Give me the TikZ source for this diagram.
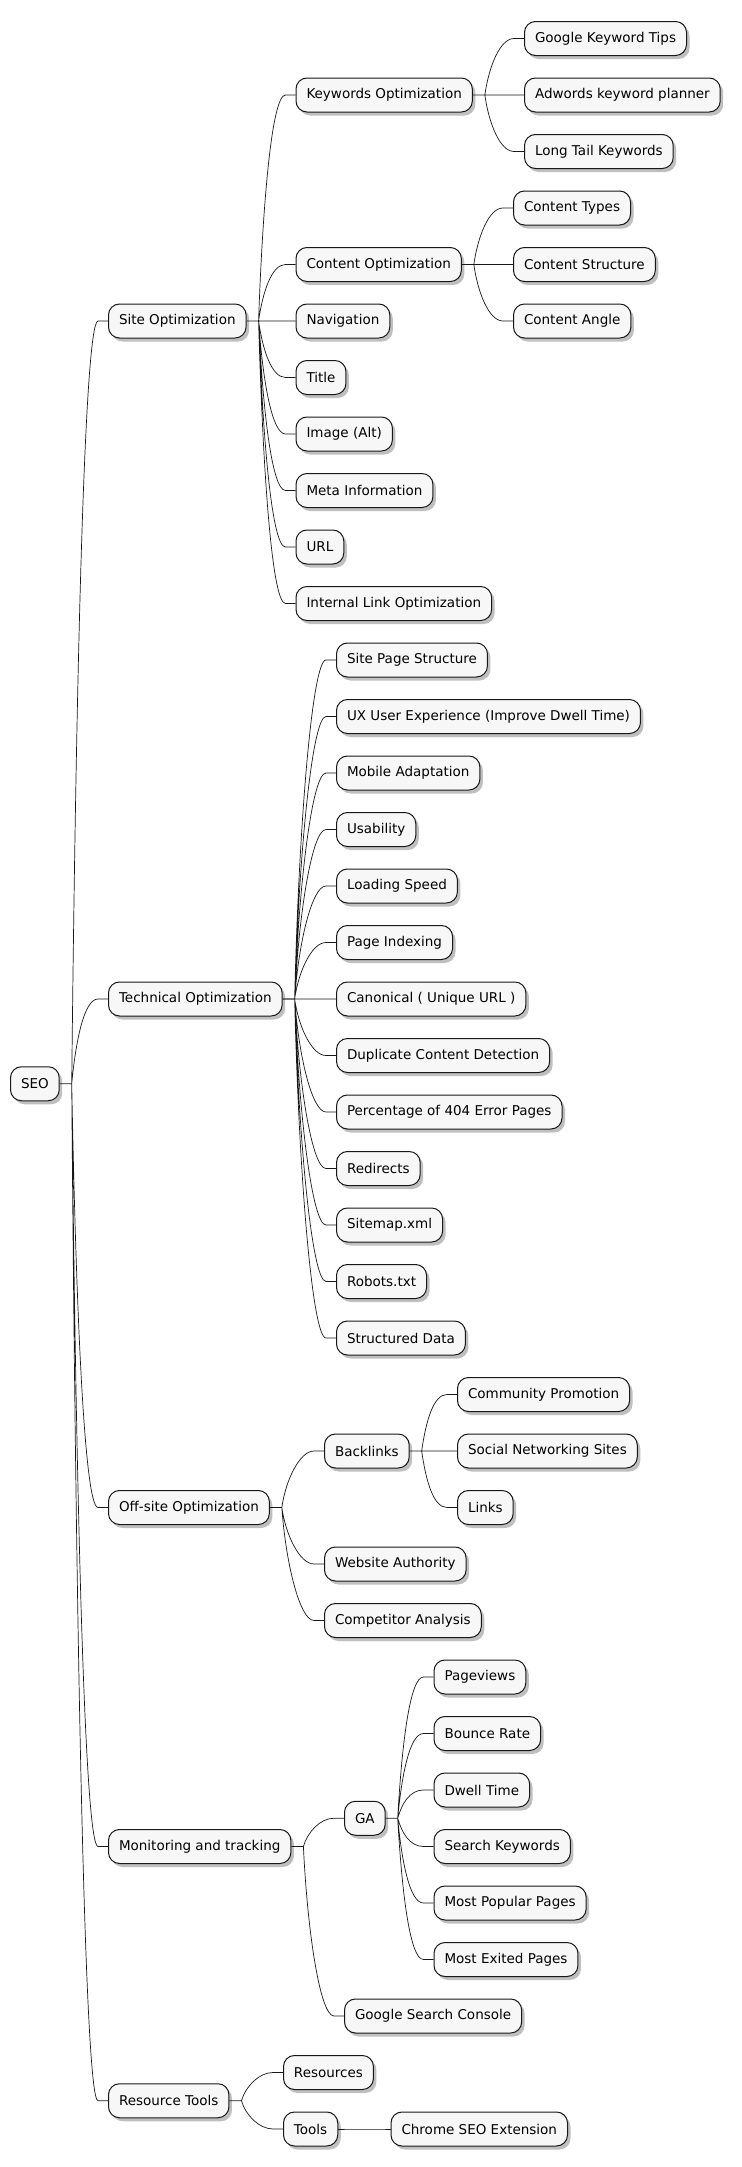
\documentclass[tikz,border=0pt]{standalone}
\usepackage{fontspec}
\setmainfont{DejaVu Sans}
\usetikzlibrary{calc,shadows}

\definecolor{boxfill}{RGB}{247,247,247}
\definecolor{linegray}{RGB}{24,24,24}

\begin{document}
\begin{tikzpicture}[x=1pt,y=-56.5pt]
  % Estilos para las cajas y las ramas
    \tikzstyle{topic} = [draw=linegray, line width=1pt, fill=boxfill, rounded corners=11pt, anchor=west, minimum height=34pt, inner xsep=10.5pt, font=\fontsize{13.5}{16}\selectfont, drop shadow={shadow xshift=3pt, shadow yshift=-3.5pt, opacity=0.25, fill=black}];
  \tikzstyle{branch} = [draw=linegray, line width=0.7pt, to path={let \p1=(\tikztostart), \p2=(\tikztotarget) in -- (\x1+12pt,\y1) .. controls (\x1+16pt,{0.5*\y1+0.5*\y2}) and (\x2-24pt,\y2) .. (\x2-10pt,\y2) -- (\tikztotarget)}];

  % Margenes de la figura
    \useasboundingbox (0,0.3186) rectangle (742,38.673);

  % Raiz
    \node [topic] (seo) at (10,19.5) {SEO};

  % Primer nivel
    \node [topic] (site) at (108,6) {Site Optimization};
    \node [topic] (tech) at (108,18) {Technical Optimization};
    \node [topic] (offsite) at (108,27) {Off-site Optimization};
    \node [topic] (monitor) at (108,33) {Monitoring and tracking};
    \node [topic] (restools) at (108,37.5) {Resource Tools};

  % Site Optimization
    \node [topic] (keywords) at (295.5,2) {Keywords Optimization};
    \node [topic] (content) at (295.5,5) {Content Optimization};
    \node [topic] (nav) at (295.5,6) {Navigation};
    \node [topic] (title) at (295.5,7) {Title};
    \node [topic] (image) at (295.5,8) {Image (Alt)};
    \node [topic] (meta) at (295.5,9) {Meta Information};
    \node [topic] (url) at (295.5,10) {URL};
    \node [topic] (intlink) at (295.5,11) {Internal Link Optimization};

    \node [topic] (kwtips) at (524,1) {Google Keyword Tips};
    \node [topic] (adwords) at (524,2) {Adwords keyword planner};
    \node [topic] (longtail) at (524,3) {Long Tail Keywords};

    \node [topic] (ctypes) at (513,4) {Content Types};
    \node [topic] (cstruct) at (513,5) {Content Structure};
    \node [topic] (cangle) at (513,6) {Content Angle};

  % Technical Optimization
    \node [topic] (pagestruct) at (336,12) {Site Page Structure};
    \node [topic] (ux) at (336,13) {UX User Experience (Improve Dwell Time)};
    \node [topic] (mobile) at (336,14) {Mobile Adaptation};
    \node [topic] (usab) at (336,15) {Usability};
    \node [topic] (speed) at (336,16) {Loading Speed};
    \node [topic] (index) at (336,17) {Page Indexing};
    \node [topic] (canon) at (336,18) {Canonical ( Unique URL )};
    \node [topic] (dup) at (336,19) {Duplicate Content Detection};
    \node [topic] (err404) at (336,20) {Percentage of 404 Error Pages};
    \node [topic] (redir) at (336,21) {Redirects};
    \node [topic] (sitemap) at (336,22) {Sitemap.xml};
    \node [topic] (robots) at (336,23) {Robots.txt};
    \node [topic] (sdata) at (336,24) {Structured Data};

  % Off-site Optimization
    \node [topic] (backlinks) at (324,26) {Backlinks};
    \node [topic] (authority) at (324,28) {Website Authority};
    \node [topic] (compet) at (324,29) {Competitor Analysis};

    \node [topic] (community) at (457,25) {Community Promotion};
    \node [topic] (social) at (457,26) {Social Networking Sites};
    \node [topic] (links) at (457,27) {Links};

  % Monitoring and tracking
    \node [topic] (ga) at (344,32.5) {GA};
    \node [topic] (gsc) at (344,36) {Google Search Console};

    \node [topic] (pviews) at (433.5,30) {Pageviews};
    \node [topic] (bounce) at (433.5,31) {Bounce Rate};
    \node [topic] (dwell) at (433.5,32) {Dwell Time};
    \node [topic] (skw) at (433.5,33) {Search Keywords};
    \node [topic] (popular) at (433.5,34) {Most Popular Pages};
    \node [topic] (exited) at (433.5,35) {Most Exited Pages};

  % Resource Tools
    \node [topic] (resources) at (283,37) {Resources};
    \node [topic] (tools) at (283,38) {Tools};
    \node [topic] (chrome) at (390.5,38) {Chrome SEO Extension};

  % Ramas
    \draw [branch] (seo.east) to (site.west) (seo.east) to (tech.west) (seo.east) to (offsite.west) (seo.east) to (monitor.west) (seo.east) to (restools.west);
    \draw [branch] (site.east) to (keywords.west) (site.east) to (content.west) (site.east) to (nav.west) (site.east) to (title.west) (site.east) to (image.west) (site.east) to (meta.west) (site.east) to (url.west) (site.east) to (intlink.west);
    \draw [branch] (keywords.east) to (kwtips.west) (keywords.east) to (adwords.west) (keywords.east) to (longtail.west);
    \draw [branch] (content.east) to (ctypes.west) (content.east) to (cstruct.west) (content.east) to (cangle.west);
    \draw [branch] (tech.east) to (pagestruct.west) (tech.east) to (ux.west) (tech.east) to (mobile.west) (tech.east) to (usab.west) (tech.east) to (speed.west) (tech.east) to (index.west) (tech.east) to (canon.west);
    \draw [branch] (tech.east) to (dup.west) (tech.east) to (err404.west) (tech.east) to (redir.west) (tech.east) to (sitemap.west) (tech.east) to (robots.west) (tech.east) to (sdata.west);
    \draw [branch] (offsite.east) to (backlinks.west) (offsite.east) to (authority.west) (offsite.east) to (compet.west);
    \draw [branch] (backlinks.east) to (community.west) (backlinks.east) to (social.west) (backlinks.east) to (links.west);
    \draw [branch] (monitor.east) to (ga.west) (monitor.east) to (gsc.west);
    \draw [branch] (ga.east) to (pviews.west) (ga.east) to (bounce.west) (ga.east) to (dwell.west) (ga.east) to (skw.west) (ga.east) to (popular.west) (ga.east) to (exited.west);
    \draw [branch] (restools.east) to (resources.west) (restools.east) to (tools.west);
    \draw [branch] (tools.east) to (chrome.west);
  \end{tikzpicture}
\end{document}
